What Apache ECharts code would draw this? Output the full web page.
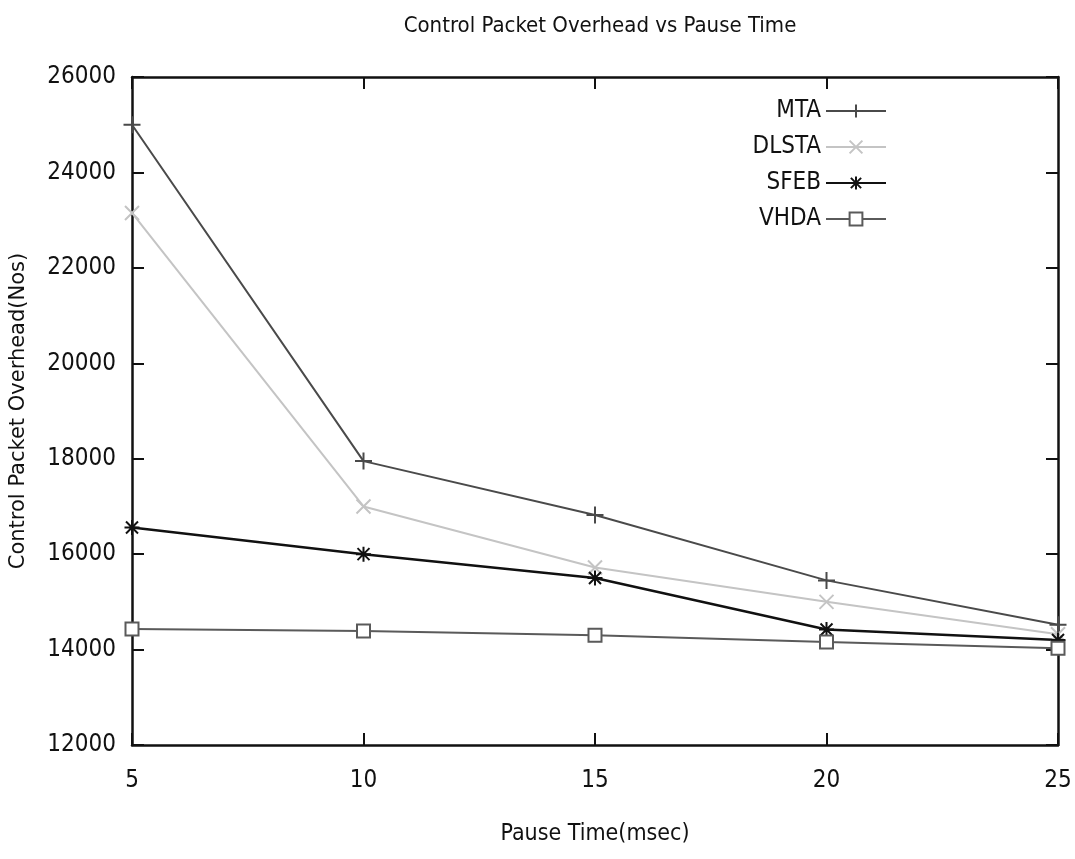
<!DOCTYPE html>
<html lang="en">
<head>
    <meta charset="UTF-8">
    <title>Control Packet Overhead vs Pause Time</title>
    <script src="https://cdn.jsdelivr.net/npm/echarts@6/dist/echarts.min.js"></script>
    <style>
        html, body { margin: 0; padding: 0; background: #fff; }
        #chart { width: 1075px; height: 859px; }
    </style>
</head>
<body>
    <div id="chart"></div>
    <script>
        // pause time values (msec)
        const pauseTimes = [5, 10, 15, 20, 25];
        const mta = [25000, 17950, 16820, 15450, 14520];
        const dlsta = [23150, 17000, 15720, 15000, 14320];
        const sfeb = [16560, 16000, 15500, 14420, 14200];
        const vhda = [14430, 14390, 14300, 14160, 14030];

        const yTicks = { min: 12000, max: 26000, step: 2000 };

        const plusPath = 'path://M0,5L10,5M5,0L5,10';
        const crossPath = 'path://M0,0L10,10M10,0L0,10';
        const starPath = 'path://M0,5L10,5M5,0L5,10M1,1L9,9M9,1L1,9';

        function pairs(vals) {
            return pauseTimes.map((t, i) => [t, vals[i]]);
        }

        function mkSeries(name, vals, color, symbol, size, width) {
            return {
                name: name,
                type: 'line',
                data: pairs(vals),
                symbol: symbol,
                symbolSize: size,
                showAllSymbol: true,
                lineStyle: { color: color, width: width },
                itemStyle: { color: color, borderColor: color, borderWidth: 2 },
                emphasis: { disabled: true },
                z: 3
            };
        }

        const chart = echarts.init(document.getElementById('chart'));
        const font = 'DejaVu Sans Condensed';

        const option = {
            animation: false,
            backgroundColor: '#fff',
            title: {
                text: 'Control Packet Overhead vs Pause Time',
                left: 595,
                textAlign: 'center',
                top: 10,
                textStyle: { fontFamily: font, fontSize: 22, fontWeight: 'normal', color: '#111' }
            },
            legend: {
                orient: 'vertical',
                right: 183,
                top: 94,
                align: 'right',
                itemWidth: 60,
                itemHeight: 16,
                itemGap: 12,
                textStyle: { fontFamily: font, fontSize: 24, color: '#111' },
                data: ['MTA', 'DLSTA', 'SFEB', 'VHDA']
            },
            grid: { left: 132, right: 17, top: 77, bottom: 114 },
            xAxis: [{
                type: 'value',
                min: 5, max: 25, interval: 5,
                name: 'Pause Time(msec)',
                nameLocation: 'middle',
                nameGap: 78,
                nameTextStyle: { fontFamily: font, fontSize: 23, color: '#111' },
                axisLine: { lineStyle: { color: '#111', width: 2.5 } },
                axisTick: { inside: true, length: 12, lineStyle: { color: '#111', width: 2 } },
                axisLabel: { fontFamily: font, fontSize: 24, color: '#111', margin: 24 },
                splitLine: { show: false }
            }, {
                type: 'value',
                position: 'top',
                min: 5, max: 25, interval: 5,
                axisLine: { lineStyle: { color: '#111', width: 2.5 } },
                axisTick: { inside: true, length: 12, lineStyle: { color: '#111', width: 2 } },
                axisLabel: { show: false },
                splitLine: { show: false }
            }],
            yAxis: [{
                type: 'value',
                min: yTicks.min, max: yTicks.max, interval: yTicks.step,
                name: 'Control Packet Overhead(Nos)',
                nameLocation: 'middle',
                nameGap: 103,
                nameTextStyle: { fontFamily: 'DejaVu Sans', fontSize: 21, color: '#111' },
                axisLine: { lineStyle: { color: '#111', width: 2.5 } },
                axisTick: { inside: true, length: 12, lineStyle: { color: '#111', width: 2 } },
                axisLabel: { fontFamily: font, fontSize: 24, color: '#111', margin: 16, formatter: v => String(v) },
                splitLine: { show: false }
            }, {
                type: 'value',
                position: 'right',
                min: yTicks.min, max: yTicks.max, interval: yTicks.step,
                axisLine: { lineStyle: { color: '#111', width: 2.5 } },
                axisTick: { inside: true, length: 12, lineStyle: { color: '#111', width: 2 } },
                axisLabel: { show: false },
                splitLine: { show: false }
            }],
            series: [
                mkSeries('MTA', mta, '#4a4a4a', plusPath, 17, 2),
                mkSeries('DLSTA', dlsta, '#c4c4c4', crossPath, 14, 2),
                mkSeries('SFEB', sfeb, '#111111', starPath, 15, 2.5),
                mkSeries('VHDA', vhda, '#5a5a5a', 'emptyRect', 13, 2)
            ]
        };
        chart.setOption(option);
    </script>
</body>
</html>
